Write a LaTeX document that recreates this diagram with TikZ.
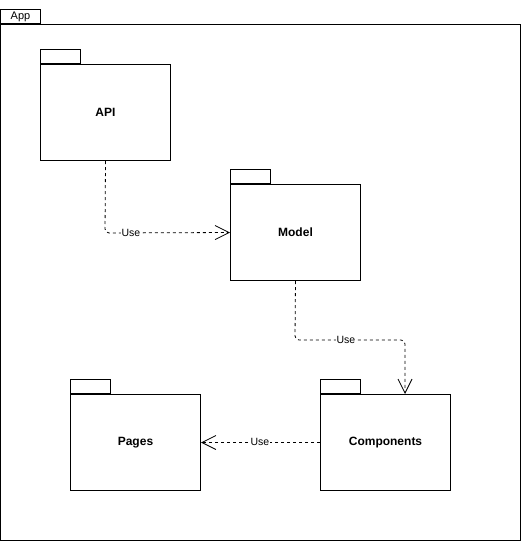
\documentclass[tikz,border=0pt]{standalone}
\usepackage{fontspec}
\setmainfont{Liberation Sans}
\usetikzlibrary{arrows.meta,positioning}
\begin{document}
\begin{tikzpicture}[x=1pt,y=-1pt,
  line width=1pt,
  pkgbody/.style={draw,minimum width=130pt,minimum height=96pt,inner sep=0pt,
    font=\fontsize{12}{14}\selectfont\bfseries,anchor=north west},
  pkgtab/.style={draw,minimum width=40pt,minimum height=14pt,inner sep=0pt,anchor=south west},
  uses/.style={draw,dash pattern=on 3pt off 3pt,line width=0.8pt,rounded corners=4pt,
    -{Straight Barb[length=14pt,width=14pt,line width=0.8pt]}},
  uselbl/.style={fill=white,inner sep=1pt,font=\fontsize{10.5}{12}\selectfont}]
  \useasboundingbox (0,0) rectangle (521,541);

  % outer package frame
  \node[draw,minimum width=520pt,minimum height=516pt,inner sep=0pt,anchor=north west] (app) at (0,24) {};
  \node[draw,minimum width=40pt,minimum height=14pt,inner sep=0pt,anchor=south west,
    font=\fontsize{11}{13}\selectfont] (apptab) at (app.north west) {App};

  % inner packages
  \node[pkgbody] (api) at (40,64) {API};
  \node[pkgtab] (apitab) at (api.north west) {};
  \node[pkgbody] (model) at (230,184) {Model};
  \node[pkgtab] (modeltab) at (model.north west) {};
  \node[pkgbody] (comp) at (320,394) {Components};
  \node[pkgtab] (comptab) at (comp.north west) {};
  \node[pkgbody] (pages) at (70,394) {Pages};
  \node[pkgtab] (pagestab) at (pages.north west) {};

  % dependencies
  \coordinate (a1) at (105,233);
  \draw[uses] (api.south) -- (a1) -- (model.west);
  \node[uselbl] at (131,233) {Use};
  \coordinate (m1) at (295,340);
  \coordinate (m2) at (405,340);
  \draw[uses] (model.south) -- (m1) -- (m2) -- (m2 |- comp.north);
  \node[uselbl] at (346,340) {Use};
  \draw[uses] (comp.west) -- (pages.east);
  \node[uselbl] at (260,442) {Use};
\end{tikzpicture}
\end{document}
